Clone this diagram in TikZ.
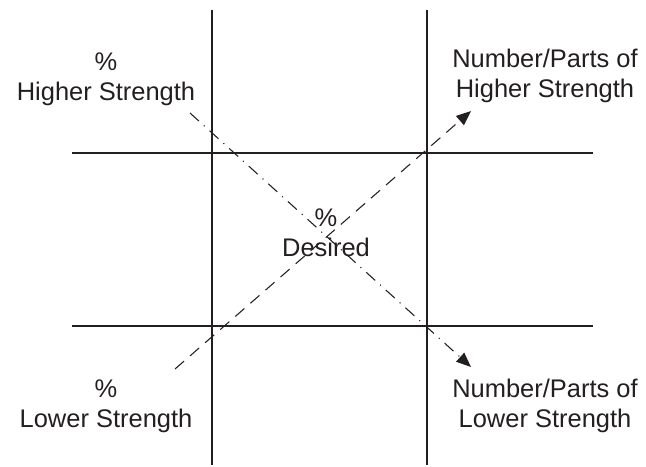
\documentclass[tikz,border=0pt]{standalone}
\usepackage{fontspec}
\setmainfont{Liberation Sans}
\usetikzlibrary{arrows.meta}
\definecolor{ink}{HTML}{231F20}
\begin{document}
\begin{tikzpicture}[x=0.75pt,y=-0.75pt,
  gridline/.style={line width=1.6pt,color=ink},
  lbl/.style={align=center,inner sep=0pt,anchor=base,font=\fontsize{19.1pt}{22.5pt}\selectfont,text=ink},
  dashline/.style={line width=0.8pt,color=ink,dash pattern=on 9pt off 6pt,-{Triangle[length=11pt,width=9pt]}},
  dotline/.style={line width=0.8pt,color=ink,dash pattern=on 9pt off 5pt on 0.8pt off 5pt,-{Triangle[length=11pt,width=9pt]}}]
\useasboundingbox (0,0) rectangle (646,467);
% grid
\coordinate (v1t) at (212,10); \coordinate (v1b) at (212,465);
\coordinate (v2t) at (427,10); \coordinate (v2b) at (427,465);
\coordinate (h1l) at (72,153); \coordinate (h1r) at (593,153);
\coordinate (h2l) at (72,326); \coordinate (h2r) at (593,326);
\draw[gridline] (v1t) -- (v1b);
\draw[gridline] (v2t) -- (v2b);
\draw[gridline] (h1l) -- (h1r);
\draw[gridline] (h2l) -- (h2r);
% labels (anchor at baseline of last line)
\node[lbl] (hs) at (106,100) {\%\\Higher Strength};
\node[lbl] (nph) at (545,98) {Number/Parts of\\Higher Strength};
\node[lbl] (des) at (326,256) {\%\\Desired};
\node[lbl] (ls) at (106,427) {\%\\Lower Strength};
\node[lbl] (npl) at (545,427) {Number/Parts of\\Lower Strength};
% diagonals
\coordinate (ds) at (175,369); \coordinate (de) at (471,111);
\coordinate (cs) at (190,113); \coordinate (ce) at (471,367);
\draw[dashline] (ds) -- (de);
\draw[dotline] (cs) -- (ce);
\end{tikzpicture}
\end{document}
